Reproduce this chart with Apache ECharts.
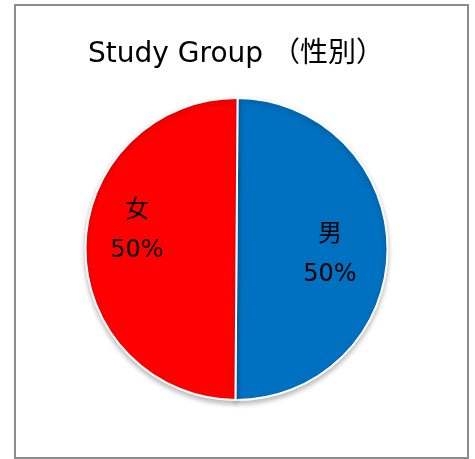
<!DOCTYPE html>
<html>
<head>
<meta charset="utf-8">
<style>
html,body{margin:0;padding:0;background:#fff;}
#chart{width:475px;height:459px;}
</style>
<script src="https://cdn.jsdelivr.net/npm/echarts@6/dist/echarts.min.js"></script>
</head>
<body>
<div id="chart"></div>
<script>
const titleText = 'Study Group （性別）';
const categories = ['男', '女'];
const values = [50, 50];
const colors = ['#0070C0', '#FF0000'];
const labelOffsets = [[15, 5], [-21, -18]];

const chart = echarts.init(document.getElementById('chart'), null, {renderer: 'canvas'});
const fontFam = '"DejaVu Sans", "Noto Sans CJK JP", sans-serif';
chart.setOption({
  animation: false,
  backgroundColor: '#fff',
  title: {
    text: titleText,
    left: 231,
    textAlign: 'center',
    top: 36,
    textStyle: {fontFamily: fontFam, fontSize: 28, fontWeight: 'normal', color: '#000'}
  },
  graphic: [{
    type: 'rect',
    shape: {x: 15, y: 5, width: 453, height: 453},
    style: {fill: 'none', stroke: '#8c8c8c', lineWidth: 2},
    silent: true
  }],
  series: [{
    type: 'pie',
    center: [236.5, 249],
    radius: [0, 151],
    startAngle: 89.6,
    clockwise: true,
    itemStyle: {
      borderColor: '#fff', borderWidth: 2,
      shadowBlur: 5, shadowColor: 'rgba(0,0,0,0.25)', shadowOffsetY: 3
    },
    label: {
      show: true,
      position: 'inside',
      formatter: '{b}\n{d}%',
      fontFamily: fontFam,
      fontSize: 24,
      lineHeight: 40,
      color: '#000'
    },
    labelLine: {show: false},
    data: categories.map((c, i) => ({
      name: c,
      value: values[i],
      itemStyle: {color: colors[i]},
      label: {offset: labelOffsets[i]}
    }))
  }]
});
</script>
</body>
</html>
